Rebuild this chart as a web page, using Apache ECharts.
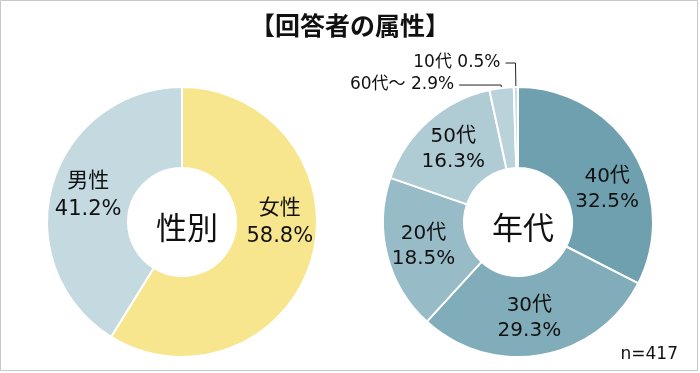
<!DOCTYPE html>
<html>
<head>
<meta charset="utf-8">
<script src="https://cdn.jsdelivr.net/npm/echarts@6/dist/echarts.min.js"></script>
<style>
html,body{margin:0;padding:0;background:#fff;}
#main{width:700px;height:373px;}
</style>
</head>
<body>
<div id="main"></div>
<script>
// ---- data ----
const chartTitle = '【回答者の属性】';
const genderCategories = ['女性', '男性'];
const genderValues = [58.8, 41.2];
const genderCenterLabel = '性別';
const ageCategories = ['40代', '30代', '20代', '50代', '60代～', '10代'];
const ageValues = [32.5, 29.3, 18.5, 16.3, 2.9, 0.5];
const ageCenterLabel = '年代';
const sampleNote = 'n=417';

// ---- styles ----
const FONT = '"Noto Sans CJK JP", "Noto Sans", sans-serif';
const LFONT = '"DejaVu Sans", "Noto Sans CJK JP", sans-serif';
const genderColors = ['#F7E68E', '#C5D9E0'];
const ageColors = ['#6FA0AF', '#81ACB9', '#98BCC7', '#AFCBD4', '#BAD3DB', '#C9DDE3'];
const genderLabelOffsets = { '女性': [4, -26] };
const ageLabelOffsets = { '40代': [6, 18], '30代': [-6, 0] };
const ageOutside = {
  '60代～': { length: 3, length2: 42 },
  '10代': { length: 24, length2: 10 }
};

const pct = v => v.toFixed(1) + '%';

const genderData = genderCategories.map((name, i) => ({
  name, value: genderValues[i],
  itemStyle: { color: genderColors[i] },
  label: { offset: genderLabelOffsets[name] || [0, 0] }
}));

const ageData = ageCategories.map((name, i) => {
  const item = {
    name, value: ageValues[i],
    itemStyle: { color: ageColors[i] }
  };
  if (ageOutside[name]) {
    item.label = {
      position: 'outside',
      formatter: p => p.name + ' ' + pct(p.value),
      fontSize: 17,
      lineHeight: 20
    };
    item.labelLine = {
      show: true,
      length: ageOutside[name].length,
      length2: ageOutside[name].length2,
      lineStyle: { color: '#222', width: 1 }
    };
  } else {
    item.label = { offset: ageLabelOffsets[name] || [0, 0] };
  }
  return item;
});

const chart = echarts.init(document.getElementById('main'), null, { renderer: 'canvas' });
chart.setOption({
  animation: false,
  textStyle: { fontFamily: FONT },
  title: [
    { text: chartTitle, left: 'center', top: 8,
      textStyle: { fontFamily: FONT, fontSize: 25, fontWeight: 'bold', color: '#111' } },
    { text: genderCenterLabel, left: 182, top: 222, textAlign: 'center', textVerticalAlign: 'middle',
      textStyle: { fontFamily: FONT, fontSize: 31, fontWeight: 'normal', color: '#111' } },
    { text: ageCenterLabel, left: 518, top: 222, textAlign: 'center', textVerticalAlign: 'middle',
      textStyle: { fontFamily: FONT, fontSize: 31, fontWeight: 'normal', color: '#111' } },
    { text: sampleNote, right: 17, top: 341,
      textStyle: { fontFamily: LFONT, fontSize: 17, fontWeight: 'normal', color: '#111' } }
  ],
  graphic: [{
    type: 'rect', shape: { x: 0.5, y: 0.5, width: 697, height: 370 },
    style: { fill: 'none', stroke: '#c8c8c8', lineWidth: 1 }, silent: true
  }],
  series: [
    {
      type: 'pie', center: [182, 222], radius: [54, 135],
      startAngle: 90, clockwise: true,
      itemStyle: { borderColor: '#fff', borderWidth: 2 },
      label: {
        show: true, position: 'inside', color: '#111',
        fontFamily: LFONT, fontSize: 21, lineHeight: 28,
        formatter: p => p.name + '\n' + pct(p.value)
      },
      labelLine: { show: false },
      emphasis: { disabled: true },
      data: genderData
    },
    {
      type: 'pie', center: [518, 222], radius: [54, 135],
      startAngle: 90, clockwise: true,
      itemStyle: { borderColor: '#fff', borderWidth: 2 },
      label: {
        show: true, position: 'inside', color: '#111',
        fontFamily: LFONT, fontSize: 20, lineHeight: 25,
        formatter: p => p.name + '\n' + pct(p.value)
      },
      labelLine: { show: false },
      emphasis: { disabled: true },
      data: ageData
    }
  ]
});
</script>
</body>
</html>
